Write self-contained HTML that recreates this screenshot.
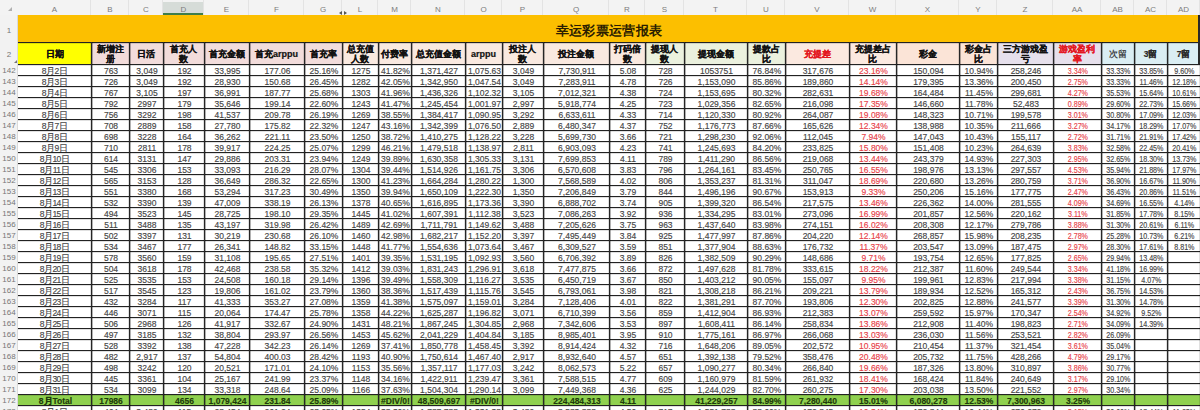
<!DOCTYPE html><html><head><meta charset="utf-8"><style>
*{margin:0;padding:0;box-sizing:border-box}
html,body{width:1200px;height:410px;overflow:hidden;background:#fff}
body{position:relative;font-family:"Liberation Sans",sans-serif}
#w{position:absolute;left:0;top:0;width:1200px;height:410px;overflow:hidden;filter:none}
.a{position:absolute}
.ch{position:absolute;top:1.5px;height:15px;line-height:15px;text-align:center;font-size:8px;color:#7c7c7c}
.rh{position:absolute;left:0;width:18px;height:11px;line-height:11px;text-align:center;font-size:8px;color:#767676}
.c{position:absolute;height:11px;line-height:11px;text-align:center;padding-left:2px;font-size:8.5px;color:#464646;white-space:nowrap;overflow:hidden;-webkit-text-stroke:0.15px currentColor}
.h{position:absolute;top:42px;height:22px;display:flex;align-items:center;justify-content:center;text-align:center;font-size:9px;line-height:9.5px;font-weight:bold;color:#111;overflow:hidden;padding-top:3px;-webkit-text-stroke:0.2px currentColor}
.h2{padding-top:2px;font-size:9px;line-height:10px}
.sm{transform:scaleX(0.84)}
.vl{position:absolute;width:1px;background:#262626;box-shadow:-1px 0 0 rgba(0,0,0,.12),1px 0 0 rgba(0,0,0,.3)}
.hl{position:absolute;height:1px;background:#222;box-shadow:0 1px 0 rgba(0,0,0,.12)}
.r{color:#e8434b}
.h.r{color:#e3161e}
.hs{font-size:8.5px;color:#2a2a2a}
.hn{font-weight:normal}
.t{font-weight:bold;color:#1d3a0a}
.dt{letter-spacing:-0.5px;padding-left:0}
</style></head><body><div id="w">

<div class="a" style="left:0;top:0;width:1200px;height:15px;background:#f3f3f3"></div>
<div class="a" style="left:0;top:15px;width:18px;height:395px;background:#f2f2f2"></div>
<div class="a" style="left:8px;top:7px;width:0;height:0;border-left:4px solid transparent;border-bottom:4px solid #b0b0b0"></div>
<div class="a" style="left:90px;top:0;width:1px;height:15px;background:#e3e3e3"></div>
<div class="ch" style="left:18px;width:73px">A</div>
<div class="a" style="left:128px;top:0;width:1px;height:15px;background:#e3e3e3"></div>
<div class="ch" style="left:91px;width:38px">B</div>
<div class="a" style="left:162px;top:0;width:1px;height:15px;background:#e3e3e3"></div>
<div class="ch" style="left:129px;width:34px">C</div>
<div class="a" style="left:163px;top:2px;width:41px;height:13px;background:#d6dcd8"></div>
<div class="a" style="left:163px;top:13px;width:41px;height:2px;background:#3f7d4a"></div>
<div class="a" style="left:203px;top:0;width:1px;height:15px;background:#e3e3e3"></div>
<div class="ch" style="left:163px;width:41px">D</div>
<div class="a" style="left:248px;top:0;width:1px;height:15px;background:#e3e3e3"></div>
<div class="ch" style="left:204px;width:45px">E</div>
<div class="a" style="left:303px;top:0;width:1px;height:15px;background:#e3e3e3"></div>
<div class="ch" style="left:249px;width:55px">F</div>
<div class="a" style="left:341px;top:0;width:1px;height:15px;background:#e3e3e3"></div>
<div class="ch" style="left:304px;width:38px">G</div>
<div class="a" style="left:377px;top:0;width:1px;height:15px;background:#e3e3e3"></div>
<div class="ch" style="left:342px;width:36px">L</div>
<div class="a" style="left:410px;top:0;width:1px;height:15px;background:#e3e3e3"></div>
<div class="ch" style="left:378px;width:33px">M</div>
<div class="a" style="left:464px;top:0;width:1px;height:15px;background:#e3e3e3"></div>
<div class="ch" style="left:411px;width:54px">N</div>
<div class="a" style="left:501px;top:0;width:1px;height:15px;background:#e3e3e3"></div>
<div class="ch" style="left:465px;width:37px">O</div>
<div class="a" style="left:542px;top:0;width:1px;height:15px;background:#e3e3e3"></div>
<div class="ch" style="left:502px;width:41px">P</div>
<div class="a" style="left:608px;top:0;width:1px;height:15px;background:#e3e3e3"></div>
<div class="ch" style="left:543px;width:66px">Q</div>
<div class="a" style="left:644px;top:0;width:1px;height:15px;background:#e3e3e3"></div>
<div class="ch" style="left:609px;width:36px">R</div>
<div class="a" style="left:683px;top:0;width:1px;height:15px;background:#e3e3e3"></div>
<div class="ch" style="left:645px;width:39px">S</div>
<div class="a" style="left:746px;top:0;width:1px;height:15px;background:#e3e3e3"></div>
<div class="ch" style="left:684px;width:63px">T</div>
<div class="a" style="left:784px;top:0;width:1px;height:15px;background:#e3e3e3"></div>
<div class="ch" style="left:747px;width:38px">U</div>
<div class="a" style="left:848px;top:0;width:1px;height:15px;background:#e3e3e3"></div>
<div class="ch" style="left:785px;width:64px">V</div>
<div class="a" style="left:895px;top:0;width:1px;height:15px;background:#e3e3e3"></div>
<div class="ch" style="left:849px;width:47px">W</div>
<div class="a" style="left:958px;top:0;width:1px;height:15px;background:#e3e3e3"></div>
<div class="ch" style="left:896px;width:63px">X</div>
<div class="a" style="left:996px;top:0;width:1px;height:15px;background:#e3e3e3"></div>
<div class="ch" style="left:959px;width:38px">Y</div>
<div class="a" style="left:1052px;top:0;width:1px;height:15px;background:#e3e3e3"></div>
<div class="ch" style="left:997px;width:56px">Z</div>
<div class="a" style="left:1100px;top:0;width:1px;height:15px;background:#e3e3e3"></div>
<div class="ch" style="left:1053px;width:48px">AA</div>
<div class="a" style="left:1133px;top:0;width:1px;height:15px;background:#e3e3e3"></div>
<div class="ch" style="left:1101px;width:33px">AB</div>
<div class="a" style="left:1166px;top:0;width:1px;height:15px;background:#e3e3e3"></div>
<div class="ch" style="left:1134px;width:33px">AC</div>
<div class="a" style="left:1199px;top:0;width:1px;height:15px;background:#e3e3e3"></div>
<div class="ch" style="left:1167px;width:33px">AD</div>
<div class="a" style="left:339px;top:11px;width:0;height:0;border-top:2px solid transparent;border-bottom:2px solid transparent;border-right:3px solid #555"></div>
<div class="a" style="left:344px;top:11px;width:0;height:0;border-top:2px solid transparent;border-bottom:2px solid transparent;border-left:3px solid #555"></div>
<div class="a" style="left:18px;top:15px;width:1182px;height:27px;background:#fcbf00"></div>
<div class="rh" style="top:25px;">1</div>
<div class="rh" style="top:49px;">2</div>
<div class="a" style="left:18px;top:18px;width:1182px;height:25px;text-align:center;line-height:25px;font-family:'Liberation Serif',serif;font-weight:bold;font-size:13px;letter-spacing:0.3px;color:#2a1d00;padding-left:0px">幸运彩票运营报表</div>
<div class="a" style="left:18px;top:42px;width:73px;height:22px;background:#FFFF00"></div>
<div class="h" style="left:18px;width:73px">日期</div>
<div class="a" style="left:91px;top:42px;width:38px;height:22px;background:#F2DCDB"></div>
<div class="h h2" style="left:91px;width:38px">新增注<br>册</div>
<div class="a" style="left:129px;top:42px;width:34px;height:22px;background:#F2DCDB"></div>
<div class="h" style="left:129px;width:34px">日活</div>
<div class="a" style="left:163px;top:42px;width:41px;height:22px;background:#F2DCDB"></div>
<div class="h h2" style="left:163px;width:41px">首充人<br>数</div>
<div class="a" style="left:204px;top:42px;width:45px;height:22px;background:#F2DCDB"></div>
<div class="h" style="left:204px;width:45px">首充金额</div>
<div class="a" style="left:249px;top:42px;width:55px;height:22px;background:#F2DCDB"></div>
<div class="h" style="left:249px;width:55px">首充arppu</div>
<div class="a" style="left:304px;top:42px;width:38px;height:22px;background:#F2DCDB"></div>
<div class="h" style="left:304px;width:38px">首充率</div>
<div class="a" style="left:342px;top:42px;width:36px;height:22px;background:#F9E9E0"></div>
<div class="h h2" style="left:342px;width:36px">总充值<br>人数</div>
<div class="a" style="left:378px;top:42px;width:33px;height:22px;background:#F9E9E0"></div>
<div class="h" style="left:378px;width:33px">付费率</div>
<div class="a" style="left:411px;top:42px;width:54px;height:22px;background:#F9E9E0"></div>
<div class="h" style="left:411px;width:54px">总充值金额</div>
<div class="a" style="left:465px;top:42px;width:37px;height:22px;background:#F9E9E0"></div>
<div class="h" style="left:465px;width:37px">arppu</div>
<div class="a" style="left:502px;top:42px;width:41px;height:22px;background:#F9E9E0"></div>
<div class="h h2" style="left:502px;width:41px">投注人<br>数</div>
<div class="a" style="left:543px;top:42px;width:66px;height:22px;background:#F9E9E0"></div>
<div class="h" style="left:543px;width:66px">投注金额</div>
<div class="a" style="left:609px;top:42px;width:36px;height:22px;background:#F9E9E0"></div>
<div class="h h2" style="left:609px;width:36px">打码倍<br>数</div>
<div class="a" style="left:645px;top:42px;width:39px;height:22px;background:#EBF1DE"></div>
<div class="h h2" style="left:645px;width:39px">提现人<br>数</div>
<div class="a" style="left:684px;top:42px;width:63px;height:22px;background:#EBF1DE"></div>
<div class="h" style="left:684px;width:63px">提现金额</div>
<div class="a" style="left:747px;top:42px;width:38px;height:22px;background:#EBF1DE"></div>
<div class="h h2" style="left:747px;width:38px">提款占<br>比</div>
<div class="a" style="left:785px;top:42px;width:64px;height:22px;background:#FBE9E0"></div>
<div class="h r" style="left:785px;width:64px">充提差</div>
<div class="a" style="left:849px;top:42px;width:47px;height:22px;background:#FBE9E0"></div>
<div class="h h2" style="left:849px;width:47px">充提差占<br>比</div>
<div class="a" style="left:896px;top:42px;width:63px;height:22px;background:#FBE4D7"></div>
<div class="h" style="left:896px;width:63px">彩金</div>
<div class="a" style="left:959px;top:42px;width:38px;height:22px;background:#FBE4D7"></div>
<div class="h h2" style="left:959px;width:38px">彩金占<br>比</div>
<div class="a" style="left:997px;top:42px;width:56px;height:22px;background:#E6E0EC"></div>
<div class="h h2" style="left:997px;width:56px">三方游戏盈<br>亏</div>
<div class="a" style="left:1053px;top:42px;width:48px;height:22px;background:#E6E0EC"></div>
<div class="h r h2" style="left:1053px;width:48px">游戏盈利<br>率</div>
<div class="a" style="left:1101px;top:42px;width:33px;height:22px;background:#DBEEF3"></div>
<div class="h hs hn" style="left:1101px;width:33px">次留</div>
<div class="a" style="left:1134px;top:42px;width:33px;height:22px;background:#DBEEF3"></div>
<div class="h hs" style="left:1134px;width:33px">3留</div>
<div class="a" style="left:1167px;top:42px;width:33px;height:22px;background:#DBEEF3"></div>
<div class="h hs" style="left:1167px;width:33px">7留</div>
<div class="rh" style="top:65px">142</div>
<div class="c dt" style="left:18px;top:65.5px;width:73px">8月2日</div>
<div class="c" style="left:91px;top:65.5px;width:38px">763</div>
<div class="c" style="left:129px;top:65.5px;width:34px">3,049</div>
<div class="c" style="left:163px;top:65.5px;width:41px">192</div>
<div class="c" style="left:204px;top:65.5px;width:45px">33,995</div>
<div class="c" style="left:249px;top:65.5px;width:55px">177.06</div>
<div class="c" style="left:304px;top:65.5px;width:38px">25.16%</div>
<div class="c" style="left:342px;top:65.5px;width:36px">1275</div>
<div class="c" style="left:378px;top:65.5px;width:33px">41.82%</div>
<div class="c" style="left:411px;top:65.5px;width:54px">1,371,427</div>
<div class="c" style="left:465px;top:65.5px;width:37px">1,075.63</div>
<div class="c" style="left:502px;top:65.5px;width:41px">3,049</div>
<div class="c" style="left:543px;top:65.5px;width:66px">7,730,911</div>
<div class="c" style="left:609px;top:65.5px;width:36px">5.08</div>
<div class="c" style="left:645px;top:65.5px;width:39px">728</div>
<div class="c" style="left:684px;top:65.5px;width:63px">1053751</div>
<div class="c" style="left:747px;top:65.5px;width:38px">76.84%</div>
<div class="c" style="left:785px;top:65.5px;width:64px">317,676</div>
<div class="c r" style="left:849px;top:65.5px;width:47px">23.16%</div>
<div class="c" style="left:896px;top:65.5px;width:63px">150,094</div>
<div class="c" style="left:959px;top:65.5px;width:38px">10.94%</div>
<div class="c" style="left:997px;top:65.5px;width:56px">258,246</div>
<div class="c r sm" style="left:1053px;top:65.5px;width:48px">3.34%</div>
<div class="c sm" style="left:1101px;top:65.5px;width:33px">33.33%</div>
<div class="c sm" style="left:1134px;top:65.5px;width:33px">33.85%</div>
<div class="c sm" style="left:1167px;top:65.5px;width:33px">9.60%</div>
<div class="rh" style="top:76px">143</div>
<div class="c dt" style="left:18px;top:76.5px;width:73px">8月3日</div>
<div class="c" style="left:91px;top:76.5px;width:38px">726</div>
<div class="c" style="left:129px;top:76.5px;width:34px">3,049</div>
<div class="c" style="left:163px;top:76.5px;width:41px">192</div>
<div class="c" style="left:204px;top:76.5px;width:45px">28,930</div>
<div class="c" style="left:249px;top:76.5px;width:55px">150.68</div>
<div class="c" style="left:304px;top:76.5px;width:38px">26.45%</div>
<div class="c" style="left:342px;top:76.5px;width:36px">1282</div>
<div class="c" style="left:378px;top:76.5px;width:33px">42.05%</div>
<div class="c" style="left:411px;top:76.5px;width:54px">1,342,950</div>
<div class="c" style="left:465px;top:76.5px;width:37px">1,047.54</div>
<div class="c" style="left:502px;top:76.5px;width:41px">3,049</div>
<div class="c" style="left:543px;top:76.5px;width:66px">7,283,911</div>
<div class="c" style="left:609px;top:76.5px;width:36px">4.78</div>
<div class="c" style="left:645px;top:76.5px;width:39px">726</div>
<div class="c" style="left:684px;top:76.5px;width:63px">1,153,090</div>
<div class="c" style="left:747px;top:76.5px;width:38px">85.86%</div>
<div class="c" style="left:785px;top:76.5px;width:64px">189,860</div>
<div class="c r" style="left:849px;top:76.5px;width:47px">14.14%</div>
<div class="c" style="left:896px;top:76.5px;width:63px">179,395</div>
<div class="c" style="left:959px;top:76.5px;width:38px">13.36%</div>
<div class="c" style="left:997px;top:76.5px;width:56px">200,450</div>
<div class="c r sm" style="left:1053px;top:76.5px;width:48px">2.75%</div>
<div class="c sm" style="left:1101px;top:76.5px;width:33px">33.33%</div>
<div class="c sm" style="left:1134px;top:76.5px;width:33px">11.46%</div>
<div class="c sm" style="left:1167px;top:76.5px;width:33px">12.18%</div>
<div class="rh" style="top:87px">144</div>
<div class="c dt" style="left:18px;top:87.5px;width:73px">8月4日</div>
<div class="c" style="left:91px;top:87.5px;width:38px">767</div>
<div class="c" style="left:129px;top:87.5px;width:34px">3,105</div>
<div class="c" style="left:163px;top:87.5px;width:41px">197</div>
<div class="c" style="left:204px;top:87.5px;width:45px">36,991</div>
<div class="c" style="left:249px;top:87.5px;width:55px">187.77</div>
<div class="c" style="left:304px;top:87.5px;width:38px">25.68%</div>
<div class="c" style="left:342px;top:87.5px;width:36px">1303</div>
<div class="c" style="left:378px;top:87.5px;width:33px">41.96%</div>
<div class="c" style="left:411px;top:87.5px;width:54px">1,436,326</div>
<div class="c" style="left:465px;top:87.5px;width:37px">1,102.32</div>
<div class="c" style="left:502px;top:87.5px;width:41px">3,105</div>
<div class="c" style="left:543px;top:87.5px;width:66px">7,012,321</div>
<div class="c" style="left:609px;top:87.5px;width:36px">4.38</div>
<div class="c" style="left:645px;top:87.5px;width:39px">724</div>
<div class="c" style="left:684px;top:87.5px;width:63px">1,153,695</div>
<div class="c" style="left:747px;top:87.5px;width:38px">80.32%</div>
<div class="c" style="left:785px;top:87.5px;width:64px">282,631</div>
<div class="c r" style="left:849px;top:87.5px;width:47px">19.68%</div>
<div class="c" style="left:896px;top:87.5px;width:63px">164,484</div>
<div class="c" style="left:959px;top:87.5px;width:38px">11.45%</div>
<div class="c" style="left:997px;top:87.5px;width:56px">299,681</div>
<div class="c r sm" style="left:1053px;top:87.5px;width:48px">4.27%</div>
<div class="c sm" style="left:1101px;top:87.5px;width:33px">35.53%</div>
<div class="c sm" style="left:1134px;top:87.5px;width:33px">15.64%</div>
<div class="c sm" style="left:1167px;top:87.5px;width:33px">10.61%</div>
<div class="rh" style="top:98px">145</div>
<div class="c dt" style="left:18px;top:98.5px;width:73px">8月5日</div>
<div class="c" style="left:91px;top:98.5px;width:38px">792</div>
<div class="c" style="left:129px;top:98.5px;width:34px">2997</div>
<div class="c" style="left:163px;top:98.5px;width:41px">179</div>
<div class="c" style="left:204px;top:98.5px;width:45px">35,646</div>
<div class="c" style="left:249px;top:98.5px;width:55px">199.14</div>
<div class="c" style="left:304px;top:98.5px;width:38px">22.60%</div>
<div class="c" style="left:342px;top:98.5px;width:36px">1243</div>
<div class="c" style="left:378px;top:98.5px;width:33px">41.47%</div>
<div class="c" style="left:411px;top:98.5px;width:54px">1,245,454</div>
<div class="c" style="left:465px;top:98.5px;width:37px">1,001.97</div>
<div class="c" style="left:502px;top:98.5px;width:41px">2,997</div>
<div class="c" style="left:543px;top:98.5px;width:66px">5,918,774</div>
<div class="c" style="left:609px;top:98.5px;width:36px">4.25</div>
<div class="c" style="left:645px;top:98.5px;width:39px">723</div>
<div class="c" style="left:684px;top:98.5px;width:63px">1,029,356</div>
<div class="c" style="left:747px;top:98.5px;width:38px">82.65%</div>
<div class="c" style="left:785px;top:98.5px;width:64px">216,098</div>
<div class="c r" style="left:849px;top:98.5px;width:47px">17.35%</div>
<div class="c" style="left:896px;top:98.5px;width:63px">146,660</div>
<div class="c" style="left:959px;top:98.5px;width:38px">11.78%</div>
<div class="c" style="left:997px;top:98.5px;width:56px">52,483</div>
<div class="c r sm" style="left:1053px;top:98.5px;width:48px">0.89%</div>
<div class="c sm" style="left:1101px;top:98.5px;width:33px">29.60%</div>
<div class="c sm" style="left:1134px;top:98.5px;width:33px">22.73%</div>
<div class="c sm" style="left:1167px;top:98.5px;width:33px">15.66%</div>
<div class="rh" style="top:109px">146</div>
<div class="c dt" style="left:18px;top:109.5px;width:73px">8月6日</div>
<div class="c" style="left:91px;top:109.5px;width:38px">756</div>
<div class="c" style="left:129px;top:109.5px;width:34px">3292</div>
<div class="c" style="left:163px;top:109.5px;width:41px">198</div>
<div class="c" style="left:204px;top:109.5px;width:45px">41,537</div>
<div class="c" style="left:249px;top:109.5px;width:55px">209.78</div>
<div class="c" style="left:304px;top:109.5px;width:38px">26.19%</div>
<div class="c" style="left:342px;top:109.5px;width:36px">1269</div>
<div class="c" style="left:378px;top:109.5px;width:33px">38.55%</div>
<div class="c" style="left:411px;top:109.5px;width:54px">1,384,417</div>
<div class="c" style="left:465px;top:109.5px;width:37px">1,090.95</div>
<div class="c" style="left:502px;top:109.5px;width:41px">3,292</div>
<div class="c" style="left:543px;top:109.5px;width:66px">6,633,611</div>
<div class="c" style="left:609px;top:109.5px;width:36px">4.33</div>
<div class="c" style="left:645px;top:109.5px;width:39px">714</div>
<div class="c" style="left:684px;top:109.5px;width:63px">1,120,330</div>
<div class="c" style="left:747px;top:109.5px;width:38px">80.92%</div>
<div class="c" style="left:785px;top:109.5px;width:64px">264,087</div>
<div class="c r" style="left:849px;top:109.5px;width:47px">19.08%</div>
<div class="c" style="left:896px;top:109.5px;width:63px">148,323</div>
<div class="c" style="left:959px;top:109.5px;width:38px">10.71%</div>
<div class="c" style="left:997px;top:109.5px;width:56px">199,578</div>
<div class="c r sm" style="left:1053px;top:109.5px;width:48px">3.01%</div>
<div class="c sm" style="left:1101px;top:109.5px;width:33px">30.80%</div>
<div class="c sm" style="left:1134px;top:109.5px;width:33px">17.09%</div>
<div class="c sm" style="left:1167px;top:109.5px;width:33px">12.03%</div>
<div class="rh" style="top:120px">147</div>
<div class="c dt" style="left:18px;top:120.5px;width:73px">8月7日</div>
<div class="c" style="left:91px;top:120.5px;width:38px">708</div>
<div class="c" style="left:129px;top:120.5px;width:34px">2889</div>
<div class="c" style="left:163px;top:120.5px;width:41px">158</div>
<div class="c" style="left:204px;top:120.5px;width:45px">27,780</div>
<div class="c" style="left:249px;top:120.5px;width:55px">175.82</div>
<div class="c" style="left:304px;top:120.5px;width:38px">22.32%</div>
<div class="c" style="left:342px;top:120.5px;width:36px">1247</div>
<div class="c" style="left:378px;top:120.5px;width:33px">43.16%</div>
<div class="c" style="left:411px;top:120.5px;width:54px">1,342,399</div>
<div class="c" style="left:465px;top:120.5px;width:37px">1,076.50</div>
<div class="c" style="left:502px;top:120.5px;width:41px">2,889</div>
<div class="c" style="left:543px;top:120.5px;width:66px">6,480,347</div>
<div class="c" style="left:609px;top:120.5px;width:36px">4.37</div>
<div class="c" style="left:645px;top:120.5px;width:39px">752</div>
<div class="c" style="left:684px;top:120.5px;width:63px">1,176,773</div>
<div class="c" style="left:747px;top:120.5px;width:38px">87.66%</div>
<div class="c" style="left:785px;top:120.5px;width:64px">165,626</div>
<div class="c r" style="left:849px;top:120.5px;width:47px">12.34%</div>
<div class="c" style="left:896px;top:120.5px;width:63px">138,988</div>
<div class="c" style="left:959px;top:120.5px;width:38px">10.35%</div>
<div class="c" style="left:997px;top:120.5px;width:56px">211,666</div>
<div class="c r sm" style="left:1053px;top:120.5px;width:48px">3.27%</div>
<div class="c sm" style="left:1101px;top:120.5px;width:33px">34.17%</div>
<div class="c sm" style="left:1134px;top:120.5px;width:33px">18.29%</div>
<div class="c sm" style="left:1167px;top:120.5px;width:33px">17.07%</div>
<div class="rh" style="top:131px">148</div>
<div class="c dt" style="left:18px;top:131.5px;width:73px">8月8日</div>
<div class="c" style="left:91px;top:131.5px;width:38px">698</div>
<div class="c" style="left:129px;top:131.5px;width:34px">3228</div>
<div class="c" style="left:163px;top:131.5px;width:41px">164</div>
<div class="c" style="left:204px;top:131.5px;width:45px">36,262</div>
<div class="c" style="left:249px;top:131.5px;width:55px">221.11</div>
<div class="c" style="left:304px;top:131.5px;width:38px">23.50%</div>
<div class="c" style="left:342px;top:131.5px;width:36px">1250</div>
<div class="c" style="left:378px;top:131.5px;width:33px">38.72%</div>
<div class="c" style="left:411px;top:131.5px;width:54px">1,410,275</div>
<div class="c" style="left:465px;top:131.5px;width:37px">1,128.22</div>
<div class="c" style="left:502px;top:131.5px;width:41px">3,228</div>
<div class="c" style="left:543px;top:131.5px;width:66px">5,699,730</div>
<div class="c" style="left:609px;top:131.5px;width:36px">3.66</div>
<div class="c" style="left:645px;top:131.5px;width:39px">721</div>
<div class="c" style="left:684px;top:131.5px;width:63px">1,298,230</div>
<div class="c" style="left:747px;top:131.5px;width:38px">92.06%</div>
<div class="c" style="left:785px;top:131.5px;width:64px">112,045</div>
<div class="c r" style="left:849px;top:131.5px;width:47px">7.94%</div>
<div class="c" style="left:896px;top:131.5px;width:63px">147,043</div>
<div class="c" style="left:959px;top:131.5px;width:38px">10.43%</div>
<div class="c" style="left:997px;top:131.5px;width:56px">155,117</div>
<div class="c r sm" style="left:1053px;top:131.5px;width:48px">2.72%</div>
<div class="c sm" style="left:1101px;top:131.5px;width:33px">31.71%</div>
<div class="c sm" style="left:1134px;top:131.5px;width:33px">21.91%</div>
<div class="c sm" style="left:1167px;top:131.5px;width:33px">17.42%</div>
<div class="rh" style="top:142px">149</div>
<div class="c dt" style="left:18px;top:142.5px;width:73px">8月9日</div>
<div class="c" style="left:91px;top:142.5px;width:38px">710</div>
<div class="c" style="left:129px;top:142.5px;width:34px">2811</div>
<div class="c" style="left:163px;top:142.5px;width:41px">178</div>
<div class="c" style="left:204px;top:142.5px;width:45px">39,917</div>
<div class="c" style="left:249px;top:142.5px;width:55px">224.25</div>
<div class="c" style="left:304px;top:142.5px;width:38px">25.07%</div>
<div class="c" style="left:342px;top:142.5px;width:36px">1299</div>
<div class="c" style="left:378px;top:142.5px;width:33px">46.21%</div>
<div class="c" style="left:411px;top:142.5px;width:54px">1,479,518</div>
<div class="c" style="left:465px;top:142.5px;width:37px">1,138.97</div>
<div class="c" style="left:502px;top:142.5px;width:41px">2,811</div>
<div class="c" style="left:543px;top:142.5px;width:66px">6,903,093</div>
<div class="c" style="left:609px;top:142.5px;width:36px">4.23</div>
<div class="c" style="left:645px;top:142.5px;width:39px">741</div>
<div class="c" style="left:684px;top:142.5px;width:63px">1,245,693</div>
<div class="c" style="left:747px;top:142.5px;width:38px">84.20%</div>
<div class="c" style="left:785px;top:142.5px;width:64px">233,825</div>
<div class="c r" style="left:849px;top:142.5px;width:47px">15.80%</div>
<div class="c" style="left:896px;top:142.5px;width:63px">151,408</div>
<div class="c" style="left:959px;top:142.5px;width:38px">10.23%</div>
<div class="c" style="left:997px;top:142.5px;width:56px">264,639</div>
<div class="c r sm" style="left:1053px;top:142.5px;width:48px">3.83%</div>
<div class="c sm" style="left:1101px;top:142.5px;width:33px">32.58%</div>
<div class="c sm" style="left:1134px;top:142.5px;width:33px">22.45%</div>
<div class="c sm" style="left:1167px;top:142.5px;width:33px">20.41%</div>
<div class="rh" style="top:153px">150</div>
<div class="c dt" style="left:18px;top:153.5px;width:73px">8月10日</div>
<div class="c" style="left:91px;top:153.5px;width:38px">614</div>
<div class="c" style="left:129px;top:153.5px;width:34px">3131</div>
<div class="c" style="left:163px;top:153.5px;width:41px">147</div>
<div class="c" style="left:204px;top:153.5px;width:45px">29,886</div>
<div class="c" style="left:249px;top:153.5px;width:55px">203.31</div>
<div class="c" style="left:304px;top:153.5px;width:38px">23.94%</div>
<div class="c" style="left:342px;top:153.5px;width:36px">1249</div>
<div class="c" style="left:378px;top:153.5px;width:33px">39.89%</div>
<div class="c" style="left:411px;top:153.5px;width:54px">1,630,358</div>
<div class="c" style="left:465px;top:153.5px;width:37px">1,305.33</div>
<div class="c" style="left:502px;top:153.5px;width:41px">3,131</div>
<div class="c" style="left:543px;top:153.5px;width:66px">7,699,853</div>
<div class="c" style="left:609px;top:153.5px;width:36px">4.11</div>
<div class="c" style="left:645px;top:153.5px;width:39px">789</div>
<div class="c" style="left:684px;top:153.5px;width:63px">1,411,290</div>
<div class="c" style="left:747px;top:153.5px;width:38px">86.56%</div>
<div class="c" style="left:785px;top:153.5px;width:64px">219,068</div>
<div class="c r" style="left:849px;top:153.5px;width:47px">13.44%</div>
<div class="c" style="left:896px;top:153.5px;width:63px">243,379</div>
<div class="c" style="left:959px;top:153.5px;width:38px">14.93%</div>
<div class="c" style="left:997px;top:153.5px;width:56px">227,303</div>
<div class="c r sm" style="left:1053px;top:153.5px;width:48px">2.95%</div>
<div class="c sm" style="left:1101px;top:153.5px;width:33px">32.65%</div>
<div class="c sm" style="left:1134px;top:153.5px;width:33px">18.30%</div>
<div class="c sm" style="left:1167px;top:153.5px;width:33px">13.73%</div>
<div class="rh" style="top:164px">151</div>
<div class="c dt" style="left:18px;top:164.5px;width:73px">8月11日</div>
<div class="c" style="left:91px;top:164.5px;width:38px">545</div>
<div class="c" style="left:129px;top:164.5px;width:34px">3306</div>
<div class="c" style="left:163px;top:164.5px;width:41px">153</div>
<div class="c" style="left:204px;top:164.5px;width:45px">33,093</div>
<div class="c" style="left:249px;top:164.5px;width:55px">216.29</div>
<div class="c" style="left:304px;top:164.5px;width:38px">28.07%</div>
<div class="c" style="left:342px;top:164.5px;width:36px">1304</div>
<div class="c" style="left:378px;top:164.5px;width:33px">39.44%</div>
<div class="c" style="left:411px;top:164.5px;width:54px">1,514,926</div>
<div class="c" style="left:465px;top:164.5px;width:37px">1,161.75</div>
<div class="c" style="left:502px;top:164.5px;width:41px">3,306</div>
<div class="c" style="left:543px;top:164.5px;width:66px">6,570,608</div>
<div class="c" style="left:609px;top:164.5px;width:36px">3.83</div>
<div class="c" style="left:645px;top:164.5px;width:39px">796</div>
<div class="c" style="left:684px;top:164.5px;width:63px">1,264,161</div>
<div class="c" style="left:747px;top:164.5px;width:38px">83.45%</div>
<div class="c" style="left:785px;top:164.5px;width:64px">250,765</div>
<div class="c r" style="left:849px;top:164.5px;width:47px">16.55%</div>
<div class="c" style="left:896px;top:164.5px;width:63px">198,976</div>
<div class="c" style="left:959px;top:164.5px;width:38px">13.13%</div>
<div class="c" style="left:997px;top:164.5px;width:56px">297,557</div>
<div class="c r sm" style="left:1053px;top:164.5px;width:48px">4.53%</div>
<div class="c sm" style="left:1101px;top:164.5px;width:33px">35.94%</div>
<div class="c sm" style="left:1134px;top:164.5px;width:33px">21.88%</div>
<div class="c sm" style="left:1167px;top:164.5px;width:33px">17.97%</div>
<div class="rh" style="top:175px">152</div>
<div class="c dt" style="left:18px;top:175.5px;width:73px">8月12日</div>
<div class="c" style="left:91px;top:175.5px;width:38px">565</div>
<div class="c" style="left:129px;top:175.5px;width:34px">3153</div>
<div class="c" style="left:163px;top:175.5px;width:41px">128</div>
<div class="c" style="left:204px;top:175.5px;width:45px">36,649</div>
<div class="c" style="left:249px;top:175.5px;width:55px">286.32</div>
<div class="c" style="left:304px;top:175.5px;width:38px">22.65%</div>
<div class="c" style="left:342px;top:175.5px;width:36px">1300</div>
<div class="c" style="left:378px;top:175.5px;width:33px">41.23%</div>
<div class="c" style="left:411px;top:175.5px;width:54px">1,664,284</div>
<div class="c" style="left:465px;top:175.5px;width:37px">1,280.22</div>
<div class="c" style="left:502px;top:175.5px;width:41px">1,300</div>
<div class="c" style="left:543px;top:175.5px;width:66px">7,568,589</div>
<div class="c" style="left:609px;top:175.5px;width:36px">4.02</div>
<div class="c" style="left:645px;top:175.5px;width:39px">806</div>
<div class="c" style="left:684px;top:175.5px;width:63px">1,353,237</div>
<div class="c" style="left:747px;top:175.5px;width:38px">81.31%</div>
<div class="c" style="left:785px;top:175.5px;width:64px">311,047</div>
<div class="c r" style="left:849px;top:175.5px;width:47px">18.69%</div>
<div class="c" style="left:896px;top:175.5px;width:63px">220,680</div>
<div class="c" style="left:959px;top:175.5px;width:38px">13.26%</div>
<div class="c" style="left:997px;top:175.5px;width:56px">280,759</div>
<div class="c r sm" style="left:1053px;top:175.5px;width:48px">3.71%</div>
<div class="c sm" style="left:1101px;top:175.5px;width:33px">36.90%</div>
<div class="c sm" style="left:1134px;top:175.5px;width:33px">16.67%</div>
<div class="c sm" style="left:1167px;top:175.5px;width:33px">11.90%</div>
<div class="rh" style="top:186px">153</div>
<div class="c dt" style="left:18px;top:186.5px;width:73px">8月13日</div>
<div class="c" style="left:91px;top:186.5px;width:38px">551</div>
<div class="c" style="left:129px;top:186.5px;width:34px">3380</div>
<div class="c" style="left:163px;top:186.5px;width:41px">168</div>
<div class="c" style="left:204px;top:186.5px;width:45px">53,294</div>
<div class="c" style="left:249px;top:186.5px;width:55px">317.23</div>
<div class="c" style="left:304px;top:186.5px;width:38px">30.49%</div>
<div class="c" style="left:342px;top:186.5px;width:36px">1350</div>
<div class="c" style="left:378px;top:186.5px;width:33px">39.94%</div>
<div class="c" style="left:411px;top:186.5px;width:54px">1,650,109</div>
<div class="c" style="left:465px;top:186.5px;width:37px">1,222.30</div>
<div class="c" style="left:502px;top:186.5px;width:41px">1,350</div>
<div class="c" style="left:543px;top:186.5px;width:66px">7,206,849</div>
<div class="c" style="left:609px;top:186.5px;width:36px">3.79</div>
<div class="c" style="left:645px;top:186.5px;width:39px">844</div>
<div class="c" style="left:684px;top:186.5px;width:63px">1,496,196</div>
<div class="c" style="left:747px;top:186.5px;width:38px">90.67%</div>
<div class="c" style="left:785px;top:186.5px;width:64px">153,913</div>
<div class="c r" style="left:849px;top:186.5px;width:47px">9.33%</div>
<div class="c" style="left:896px;top:186.5px;width:63px">250,206</div>
<div class="c" style="left:959px;top:186.5px;width:38px">15.16%</div>
<div class="c" style="left:997px;top:186.5px;width:56px">177,775</div>
<div class="c r sm" style="left:1053px;top:186.5px;width:48px">2.47%</div>
<div class="c sm" style="left:1101px;top:186.5px;width:33px">36.43%</div>
<div class="c sm" style="left:1134px;top:186.5px;width:33px">20.86%</div>
<div class="c sm" style="left:1167px;top:186.5px;width:33px">11.51%</div>
<div class="rh" style="top:197px">154</div>
<div class="c dt" style="left:18px;top:197.5px;width:73px">8月14日</div>
<div class="c" style="left:91px;top:197.5px;width:38px">532</div>
<div class="c" style="left:129px;top:197.5px;width:34px">3390</div>
<div class="c" style="left:163px;top:197.5px;width:41px">139</div>
<div class="c" style="left:204px;top:197.5px;width:45px">47,009</div>
<div class="c" style="left:249px;top:197.5px;width:55px">338.19</div>
<div class="c" style="left:304px;top:197.5px;width:38px">26.13%</div>
<div class="c" style="left:342px;top:197.5px;width:36px">1378</div>
<div class="c" style="left:378px;top:197.5px;width:33px">40.65%</div>
<div class="c" style="left:411px;top:197.5px;width:54px">1,616,895</div>
<div class="c" style="left:465px;top:197.5px;width:37px">1,173.36</div>
<div class="c" style="left:502px;top:197.5px;width:41px">3,390</div>
<div class="c" style="left:543px;top:197.5px;width:66px">6,888,702</div>
<div class="c" style="left:609px;top:197.5px;width:36px">3.74</div>
<div class="c" style="left:645px;top:197.5px;width:39px">905</div>
<div class="c" style="left:684px;top:197.5px;width:63px">1,399,320</div>
<div class="c" style="left:747px;top:197.5px;width:38px">86.54%</div>
<div class="c" style="left:785px;top:197.5px;width:64px">217,575</div>
<div class="c r" style="left:849px;top:197.5px;width:47px">13.46%</div>
<div class="c" style="left:896px;top:197.5px;width:63px">226,362</div>
<div class="c" style="left:959px;top:197.5px;width:38px">14.00%</div>
<div class="c" style="left:997px;top:197.5px;width:56px">281,555</div>
<div class="c r sm" style="left:1053px;top:197.5px;width:48px">4.09%</div>
<div class="c sm" style="left:1101px;top:197.5px;width:33px">34.69%</div>
<div class="c sm" style="left:1134px;top:197.5px;width:33px">16.55%</div>
<div class="c sm" style="left:1167px;top:197.5px;width:33px">4.14%</div>
<div class="rh" style="top:208px">155</div>
<div class="c dt" style="left:18px;top:208.5px;width:73px">8月15日</div>
<div class="c" style="left:91px;top:208.5px;width:38px">494</div>
<div class="c" style="left:129px;top:208.5px;width:34px">3523</div>
<div class="c" style="left:163px;top:208.5px;width:41px">145</div>
<div class="c" style="left:204px;top:208.5px;width:45px">28,725</div>
<div class="c" style="left:249px;top:208.5px;width:55px">198.10</div>
<div class="c" style="left:304px;top:208.5px;width:38px">29.35%</div>
<div class="c" style="left:342px;top:208.5px;width:36px">1445</div>
<div class="c" style="left:378px;top:208.5px;width:33px">41.02%</div>
<div class="c" style="left:411px;top:208.5px;width:54px">1,607,391</div>
<div class="c" style="left:465px;top:208.5px;width:37px">1,112.38</div>
<div class="c" style="left:502px;top:208.5px;width:41px">3,523</div>
<div class="c" style="left:543px;top:208.5px;width:66px">7,086,263</div>
<div class="c" style="left:609px;top:208.5px;width:36px">3.92</div>
<div class="c" style="left:645px;top:208.5px;width:39px">936</div>
<div class="c" style="left:684px;top:208.5px;width:63px">1,334,295</div>
<div class="c" style="left:747px;top:208.5px;width:38px">83.01%</div>
<div class="c" style="left:785px;top:208.5px;width:64px">273,096</div>
<div class="c r" style="left:849px;top:208.5px;width:47px">16.99%</div>
<div class="c" style="left:896px;top:208.5px;width:63px">201,857</div>
<div class="c" style="left:959px;top:208.5px;width:38px">12.56%</div>
<div class="c" style="left:997px;top:208.5px;width:56px">220,162</div>
<div class="c r sm" style="left:1053px;top:208.5px;width:48px">3.11%</div>
<div class="c sm" style="left:1101px;top:208.5px;width:33px">31.85%</div>
<div class="c sm" style="left:1134px;top:208.5px;width:33px">17.78%</div>
<div class="c sm" style="left:1167px;top:208.5px;width:33px">8.15%</div>
<div class="rh" style="top:219px">156</div>
<div class="c dt" style="left:18px;top:219.5px;width:73px">8月16日</div>
<div class="c" style="left:91px;top:219.5px;width:38px">511</div>
<div class="c" style="left:129px;top:219.5px;width:34px">3488</div>
<div class="c" style="left:163px;top:219.5px;width:41px">135</div>
<div class="c" style="left:204px;top:219.5px;width:45px">43,197</div>
<div class="c" style="left:249px;top:219.5px;width:55px">319.98</div>
<div class="c" style="left:304px;top:219.5px;width:38px">26.42%</div>
<div class="c" style="left:342px;top:219.5px;width:36px">1489</div>
<div class="c" style="left:378px;top:219.5px;width:33px">42.69%</div>
<div class="c" style="left:411px;top:219.5px;width:54px">1,711,791</div>
<div class="c" style="left:465px;top:219.5px;width:37px">1,149.62</div>
<div class="c" style="left:502px;top:219.5px;width:41px">3,488</div>
<div class="c" style="left:543px;top:219.5px;width:66px">7,205,626</div>
<div class="c" style="left:609px;top:219.5px;width:36px">3.75</div>
<div class="c" style="left:645px;top:219.5px;width:39px">963</div>
<div class="c" style="left:684px;top:219.5px;width:63px">1,437,640</div>
<div class="c" style="left:747px;top:219.5px;width:38px">83.98%</div>
<div class="c" style="left:785px;top:219.5px;width:64px">274,151</div>
<div class="c r" style="left:849px;top:219.5px;width:47px">16.02%</div>
<div class="c" style="left:896px;top:219.5px;width:63px">208,308</div>
<div class="c" style="left:959px;top:219.5px;width:38px">12.17%</div>
<div class="c" style="left:997px;top:219.5px;width:56px">279,786</div>
<div class="c r sm" style="left:1053px;top:219.5px;width:48px">3.88%</div>
<div class="c sm" style="left:1101px;top:219.5px;width:33px">31.30%</div>
<div class="c sm" style="left:1134px;top:219.5px;width:33px">20.61%</div>
<div class="c sm" style="left:1167px;top:219.5px;width:33px">6.11%</div>
<div class="rh" style="top:230px">157</div>
<div class="c dt" style="left:18px;top:230.5px;width:73px">8月17日</div>
<div class="c" style="left:91px;top:230.5px;width:38px">502</div>
<div class="c" style="left:129px;top:230.5px;width:34px">3397</div>
<div class="c" style="left:163px;top:230.5px;width:41px">131</div>
<div class="c" style="left:204px;top:230.5px;width:45px">30,219</div>
<div class="c" style="left:249px;top:230.5px;width:55px">230.68</div>
<div class="c" style="left:304px;top:230.5px;width:38px">26.10%</div>
<div class="c" style="left:342px;top:230.5px;width:36px">1460</div>
<div class="c" style="left:378px;top:230.5px;width:33px">42.98%</div>
<div class="c" style="left:411px;top:230.5px;width:54px">1,682,217</div>
<div class="c" style="left:465px;top:230.5px;width:37px">1,152.20</div>
<div class="c" style="left:502px;top:230.5px;width:41px">3,397</div>
<div class="c" style="left:543px;top:230.5px;width:66px">7,495,449</div>
<div class="c" style="left:609px;top:230.5px;width:36px">3.84</div>
<div class="c" style="left:645px;top:230.5px;width:39px">925</div>
<div class="c" style="left:684px;top:230.5px;width:63px">1,477,997</div>
<div class="c" style="left:747px;top:230.5px;width:38px">87.86%</div>
<div class="c" style="left:785px;top:230.5px;width:64px">204,220</div>
<div class="c r" style="left:849px;top:230.5px;width:47px">12.14%</div>
<div class="c" style="left:896px;top:230.5px;width:63px">268,857</div>
<div class="c" style="left:959px;top:230.5px;width:38px">15.98%</div>
<div class="c" style="left:997px;top:230.5px;width:56px">208,235</div>
<div class="c r sm" style="left:1053px;top:230.5px;width:48px">2.78%</div>
<div class="c sm" style="left:1101px;top:230.5px;width:33px">25.28%</div>
<div class="c sm" style="left:1134px;top:230.5px;width:33px">10.73%</div>
<div class="c sm" style="left:1167px;top:230.5px;width:33px">6.21%</div>
<div class="rh" style="top:241px">158</div>
<div class="c dt" style="left:18px;top:241.5px;width:73px">8月18日</div>
<div class="c" style="left:91px;top:241.5px;width:38px">534</div>
<div class="c" style="left:129px;top:241.5px;width:34px">3467</div>
<div class="c" style="left:163px;top:241.5px;width:41px">177</div>
<div class="c" style="left:204px;top:241.5px;width:45px">26,341</div>
<div class="c" style="left:249px;top:241.5px;width:55px">148.82</div>
<div class="c" style="left:304px;top:241.5px;width:38px">33.15%</div>
<div class="c" style="left:342px;top:241.5px;width:36px">1448</div>
<div class="c" style="left:378px;top:241.5px;width:33px">41.77%</div>
<div class="c" style="left:411px;top:241.5px;width:54px">1,554,636</div>
<div class="c" style="left:465px;top:241.5px;width:37px">1,073.64</div>
<div class="c" style="left:502px;top:241.5px;width:41px">3,467</div>
<div class="c" style="left:543px;top:241.5px;width:66px">6,309,527</div>
<div class="c" style="left:609px;top:241.5px;width:36px">3.59</div>
<div class="c" style="left:645px;top:241.5px;width:39px">851</div>
<div class="c" style="left:684px;top:241.5px;width:63px">1,377,904</div>
<div class="c" style="left:747px;top:241.5px;width:38px">88.63%</div>
<div class="c" style="left:785px;top:241.5px;width:64px">176,732</div>
<div class="c r" style="left:849px;top:241.5px;width:47px">11.37%</div>
<div class="c" style="left:896px;top:241.5px;width:63px">203,547</div>
<div class="c" style="left:959px;top:241.5px;width:38px">13.09%</div>
<div class="c" style="left:997px;top:241.5px;width:56px">187,475</div>
<div class="c r sm" style="left:1053px;top:241.5px;width:48px">2.97%</div>
<div class="c sm" style="left:1101px;top:241.5px;width:33px">28.30%</div>
<div class="c sm" style="left:1134px;top:241.5px;width:33px">17.61%</div>
<div class="c sm" style="left:1167px;top:241.5px;width:33px">8.81%</div>
<div class="rh" style="top:252px">159</div>
<div class="c dt" style="left:18px;top:252.5px;width:73px">8月19日</div>
<div class="c" style="left:91px;top:252.5px;width:38px">578</div>
<div class="c" style="left:129px;top:252.5px;width:34px">3560</div>
<div class="c" style="left:163px;top:252.5px;width:41px">159</div>
<div class="c" style="left:204px;top:252.5px;width:45px">31,108</div>
<div class="c" style="left:249px;top:252.5px;width:55px">195.65</div>
<div class="c" style="left:304px;top:252.5px;width:38px">27.51%</div>
<div class="c" style="left:342px;top:252.5px;width:36px">1401</div>
<div class="c" style="left:378px;top:252.5px;width:33px">39.35%</div>
<div class="c" style="left:411px;top:252.5px;width:54px">1,531,195</div>
<div class="c" style="left:465px;top:252.5px;width:37px">1,092.93</div>
<div class="c" style="left:502px;top:252.5px;width:41px">3,560</div>
<div class="c" style="left:543px;top:252.5px;width:66px">6,706,392</div>
<div class="c" style="left:609px;top:252.5px;width:36px">3.89</div>
<div class="c" style="left:645px;top:252.5px;width:39px">826</div>
<div class="c" style="left:684px;top:252.5px;width:63px">1,382,509</div>
<div class="c" style="left:747px;top:252.5px;width:38px">90.29%</div>
<div class="c" style="left:785px;top:252.5px;width:64px">148,686</div>
<div class="c r" style="left:849px;top:252.5px;width:47px">9.71%</div>
<div class="c" style="left:896px;top:252.5px;width:63px">193,754</div>
<div class="c" style="left:959px;top:252.5px;width:38px">12.65%</div>
<div class="c" style="left:997px;top:252.5px;width:56px">177,825</div>
<div class="c r sm" style="left:1053px;top:252.5px;width:48px">2.65%</div>
<div class="c sm" style="left:1101px;top:252.5px;width:33px">29.94%</div>
<div class="c sm" style="left:1134px;top:252.5px;width:33px">13.48%</div>
<div class="rh" style="top:263px">160</div>
<div class="c dt" style="left:18px;top:263.5px;width:73px">8月20日</div>
<div class="c" style="left:91px;top:263.5px;width:38px">504</div>
<div class="c" style="left:129px;top:263.5px;width:34px">3618</div>
<div class="c" style="left:163px;top:263.5px;width:41px">178</div>
<div class="c" style="left:204px;top:263.5px;width:45px">42,468</div>
<div class="c" style="left:249px;top:263.5px;width:55px">238.58</div>
<div class="c" style="left:304px;top:263.5px;width:38px">35.32%</div>
<div class="c" style="left:342px;top:263.5px;width:36px">1412</div>
<div class="c" style="left:378px;top:263.5px;width:33px">39.03%</div>
<div class="c" style="left:411px;top:263.5px;width:54px">1,831,243</div>
<div class="c" style="left:465px;top:263.5px;width:37px">1,296.91</div>
<div class="c" style="left:502px;top:263.5px;width:41px">3,618</div>
<div class="c" style="left:543px;top:263.5px;width:66px">7,477,875</div>
<div class="c" style="left:609px;top:263.5px;width:36px">3.66</div>
<div class="c" style="left:645px;top:263.5px;width:39px">872</div>
<div class="c" style="left:684px;top:263.5px;width:63px">1,497,628</div>
<div class="c" style="left:747px;top:263.5px;width:38px">81.78%</div>
<div class="c" style="left:785px;top:263.5px;width:64px">333,615</div>
<div class="c r" style="left:849px;top:263.5px;width:47px">18.22%</div>
<div class="c" style="left:896px;top:263.5px;width:63px">212,387</div>
<div class="c" style="left:959px;top:263.5px;width:38px">11.60%</div>
<div class="c" style="left:997px;top:263.5px;width:56px">249,544</div>
<div class="c r sm" style="left:1053px;top:263.5px;width:48px">3.34%</div>
<div class="c sm" style="left:1101px;top:263.5px;width:33px">41.18%</div>
<div class="c sm" style="left:1134px;top:263.5px;width:33px">16.99%</div>
<div class="rh" style="top:274px">161</div>
<div class="c dt" style="left:18px;top:274.5px;width:73px">8月21日</div>
<div class="c" style="left:91px;top:274.5px;width:38px">525</div>
<div class="c" style="left:129px;top:274.5px;width:34px">3535</div>
<div class="c" style="left:163px;top:274.5px;width:41px">153</div>
<div class="c" style="left:204px;top:274.5px;width:45px">24,508</div>
<div class="c" style="left:249px;top:274.5px;width:55px">160.18</div>
<div class="c" style="left:304px;top:274.5px;width:38px">29.14%</div>
<div class="c" style="left:342px;top:274.5px;width:36px">1396</div>
<div class="c" style="left:378px;top:274.5px;width:33px">39.49%</div>
<div class="c" style="left:411px;top:274.5px;width:54px">1,558,309</div>
<div class="c" style="left:465px;top:274.5px;width:37px">1,116.27</div>
<div class="c" style="left:502px;top:274.5px;width:41px">3,535</div>
<div class="c" style="left:543px;top:274.5px;width:66px">6,450,719</div>
<div class="c" style="left:609px;top:274.5px;width:36px">3.67</div>
<div class="c" style="left:645px;top:274.5px;width:39px">850</div>
<div class="c" style="left:684px;top:274.5px;width:63px">1,403,212</div>
<div class="c" style="left:747px;top:274.5px;width:38px">90.05%</div>
<div class="c" style="left:785px;top:274.5px;width:64px">155,097</div>
<div class="c r" style="left:849px;top:274.5px;width:47px">9.95%</div>
<div class="c" style="left:896px;top:274.5px;width:63px">199,961</div>
<div class="c" style="left:959px;top:274.5px;width:38px">12.83%</div>
<div class="c" style="left:997px;top:274.5px;width:56px">217,994</div>
<div class="c r sm" style="left:1053px;top:274.5px;width:48px">3.38%</div>
<div class="c sm" style="left:1101px;top:274.5px;width:33px">31.15%</div>
<div class="c sm" style="left:1134px;top:274.5px;width:33px">4.07%</div>
<div class="rh" style="top:285px">162</div>
<div class="c dt" style="left:18px;top:285.5px;width:73px">8月22日</div>
<div class="c" style="left:91px;top:285.5px;width:38px">517</div>
<div class="c" style="left:129px;top:285.5px;width:34px">3545</div>
<div class="c" style="left:163px;top:285.5px;width:41px">123</div>
<div class="c" style="left:204px;top:285.5px;width:45px">19,806</div>
<div class="c" style="left:249px;top:285.5px;width:55px">161.02</div>
<div class="c" style="left:304px;top:285.5px;width:38px">23.79%</div>
<div class="c" style="left:342px;top:285.5px;width:36px">1360</div>
<div class="c" style="left:378px;top:285.5px;width:33px">38.36%</div>
<div class="c" style="left:411px;top:285.5px;width:54px">1,517,439</div>
<div class="c" style="left:465px;top:285.5px;width:37px">1,115.76</div>
<div class="c" style="left:502px;top:285.5px;width:41px">3,545</div>
<div class="c" style="left:543px;top:285.5px;width:66px">6,793,061</div>
<div class="c" style="left:609px;top:285.5px;width:36px">3.98</div>
<div class="c" style="left:645px;top:285.5px;width:39px">821</div>
<div class="c" style="left:684px;top:285.5px;width:63px">1,308,218</div>
<div class="c" style="left:747px;top:285.5px;width:38px">86.21%</div>
<div class="c" style="left:785px;top:285.5px;width:64px">209,221</div>
<div class="c r" style="left:849px;top:285.5px;width:47px">13.79%</div>
<div class="c" style="left:896px;top:285.5px;width:63px">189,934</div>
<div class="c" style="left:959px;top:285.5px;width:38px">12.52%</div>
<div class="c" style="left:997px;top:285.5px;width:56px">165,312</div>
<div class="c r sm" style="left:1053px;top:285.5px;width:48px">2.43%</div>
<div class="c sm" style="left:1101px;top:285.5px;width:33px">36.75%</div>
<div class="c sm" style="left:1134px;top:285.5px;width:33px">14.53%</div>
<div class="rh" style="top:296px">163</div>
<div class="c dt" style="left:18px;top:296.5px;width:73px">8月23日</div>
<div class="c" style="left:91px;top:296.5px;width:38px">432</div>
<div class="c" style="left:129px;top:296.5px;width:34px">3284</div>
<div class="c" style="left:163px;top:296.5px;width:41px">117</div>
<div class="c" style="left:204px;top:296.5px;width:45px">41,333</div>
<div class="c" style="left:249px;top:296.5px;width:55px">353.27</div>
<div class="c" style="left:304px;top:296.5px;width:38px">27.08%</div>
<div class="c" style="left:342px;top:296.5px;width:36px">1359</div>
<div class="c" style="left:378px;top:296.5px;width:33px">41.38%</div>
<div class="c" style="left:411px;top:296.5px;width:54px">1,575,097</div>
<div class="c" style="left:465px;top:296.5px;width:37px">1,159.01</div>
<div class="c" style="left:502px;top:296.5px;width:41px">3,284</div>
<div class="c" style="left:543px;top:296.5px;width:66px">7,128,406</div>
<div class="c" style="left:609px;top:296.5px;width:36px">4.01</div>
<div class="c" style="left:645px;top:296.5px;width:39px">822</div>
<div class="c" style="left:684px;top:296.5px;width:63px">1,381,291</div>
<div class="c" style="left:747px;top:296.5px;width:38px">87.70%</div>
<div class="c" style="left:785px;top:296.5px;width:64px">193,806</div>
<div class="c r" style="left:849px;top:296.5px;width:47px">12.30%</div>
<div class="c" style="left:896px;top:296.5px;width:63px">202,825</div>
<div class="c" style="left:959px;top:296.5px;width:38px">12.88%</div>
<div class="c" style="left:997px;top:296.5px;width:56px">241,577</div>
<div class="c r sm" style="left:1053px;top:296.5px;width:48px">3.39%</div>
<div class="c sm" style="left:1101px;top:296.5px;width:33px">31.30%</div>
<div class="c sm" style="left:1134px;top:296.5px;width:33px">14.78%</div>
<div class="rh" style="top:307px">164</div>
<div class="c dt" style="left:18px;top:307.5px;width:73px">8月24日</div>
<div class="c" style="left:91px;top:307.5px;width:38px">446</div>
<div class="c" style="left:129px;top:307.5px;width:34px">3071</div>
<div class="c" style="left:163px;top:307.5px;width:41px">115</div>
<div class="c" style="left:204px;top:307.5px;width:45px">20,064</div>
<div class="c" style="left:249px;top:307.5px;width:55px">174.47</div>
<div class="c" style="left:304px;top:307.5px;width:38px">25.78%</div>
<div class="c" style="left:342px;top:307.5px;width:36px">1358</div>
<div class="c" style="left:378px;top:307.5px;width:33px">44.22%</div>
<div class="c" style="left:411px;top:307.5px;width:54px">1,625,287</div>
<div class="c" style="left:465px;top:307.5px;width:37px">1,196.82</div>
<div class="c" style="left:502px;top:307.5px;width:41px">3,071</div>
<div class="c" style="left:543px;top:307.5px;width:66px">6,710,399</div>
<div class="c" style="left:609px;top:307.5px;width:36px">3.56</div>
<div class="c" style="left:645px;top:307.5px;width:39px">859</div>
<div class="c" style="left:684px;top:307.5px;width:63px">1,412,904</div>
<div class="c" style="left:747px;top:307.5px;width:38px">86.93%</div>
<div class="c" style="left:785px;top:307.5px;width:64px">212,383</div>
<div class="c r" style="left:849px;top:307.5px;width:47px">13.07%</div>
<div class="c" style="left:896px;top:307.5px;width:63px">259,592</div>
<div class="c" style="left:959px;top:307.5px;width:38px">15.97%</div>
<div class="c" style="left:997px;top:307.5px;width:56px">170,347</div>
<div class="c r sm" style="left:1053px;top:307.5px;width:48px">2.54%</div>
<div class="c sm" style="left:1101px;top:307.5px;width:33px">34.92%</div>
<div class="c sm" style="left:1134px;top:307.5px;width:33px">9.52%</div>
<div class="rh" style="top:318px">165</div>
<div class="c dt" style="left:18px;top:318.5px;width:73px">8月25日</div>
<div class="c" style="left:91px;top:318.5px;width:38px">506</div>
<div class="c" style="left:129px;top:318.5px;width:34px">2968</div>
<div class="c" style="left:163px;top:318.5px;width:41px">126</div>
<div class="c" style="left:204px;top:318.5px;width:45px">41,917</div>
<div class="c" style="left:249px;top:318.5px;width:55px">332.67</div>
<div class="c" style="left:304px;top:318.5px;width:38px">24.90%</div>
<div class="c" style="left:342px;top:318.5px;width:36px">1431</div>
<div class="c" style="left:378px;top:318.5px;width:33px">48.21%</div>
<div class="c" style="left:411px;top:318.5px;width:54px">1,867,245</div>
<div class="c" style="left:465px;top:318.5px;width:37px">1,304.85</div>
<div class="c" style="left:502px;top:318.5px;width:41px">2,968</div>
<div class="c" style="left:543px;top:318.5px;width:66px">7,342,606</div>
<div class="c" style="left:609px;top:318.5px;width:36px">3.53</div>
<div class="c" style="left:645px;top:318.5px;width:39px">897</div>
<div class="c" style="left:684px;top:318.5px;width:63px">1,608,411</div>
<div class="c" style="left:747px;top:318.5px;width:38px">86.14%</div>
<div class="c" style="left:785px;top:318.5px;width:64px">258,834</div>
<div class="c r" style="left:849px;top:318.5px;width:47px">13.86%</div>
<div class="c" style="left:896px;top:318.5px;width:63px">212,908</div>
<div class="c" style="left:959px;top:318.5px;width:38px">11.40%</div>
<div class="c" style="left:997px;top:318.5px;width:56px">198,823</div>
<div class="c r sm" style="left:1053px;top:318.5px;width:48px">2.71%</div>
<div class="c sm" style="left:1101px;top:318.5px;width:33px">34.09%</div>
<div class="c sm" style="left:1134px;top:318.5px;width:33px">14.39%</div>
<div class="rh" style="top:329px">166</div>
<div class="c dt" style="left:18px;top:329.5px;width:73px">8月26日</div>
<div class="c" style="left:91px;top:329.5px;width:38px">497</div>
<div class="c" style="left:129px;top:329.5px;width:34px">3185</div>
<div class="c" style="left:163px;top:329.5px;width:41px">132</div>
<div class="c" style="left:204px;top:329.5px;width:45px">38,804</div>
<div class="c" style="left:249px;top:329.5px;width:55px">293.97</div>
<div class="c" style="left:304px;top:329.5px;width:38px">26.56%</div>
<div class="c" style="left:342px;top:329.5px;width:36px">1453</div>
<div class="c" style="left:378px;top:329.5px;width:33px">45.62%</div>
<div class="c" style="left:411px;top:329.5px;width:54px">2,041,229</div>
<div class="c" style="left:465px;top:329.5px;width:37px">1,404.84</div>
<div class="c" style="left:502px;top:329.5px;width:41px">3,185</div>
<div class="c" style="left:543px;top:329.5px;width:66px">8,985,401</div>
<div class="c" style="left:609px;top:329.5px;width:36px">3.95</div>
<div class="c" style="left:645px;top:329.5px;width:39px">910</div>
<div class="c" style="left:684px;top:329.5px;width:63px">1,775,161</div>
<div class="c" style="left:747px;top:329.5px;width:38px">86.97%</div>
<div class="c" style="left:785px;top:329.5px;width:64px">266,068</div>
<div class="c r" style="left:849px;top:329.5px;width:47px">13.03%</div>
<div class="c" style="left:896px;top:329.5px;width:63px">236,030</div>
<div class="c" style="left:959px;top:329.5px;width:38px">11.56%</div>
<div class="c" style="left:997px;top:329.5px;width:56px">253,521</div>
<div class="c r sm" style="left:1053px;top:329.5px;width:48px">2.82%</div>
<div class="c sm" style="left:1101px;top:329.5px;width:33px">26.09%</div>
<div class="rh" style="top:340px">167</div>
<div class="c dt" style="left:18px;top:340.5px;width:73px">8月27日</div>
<div class="c" style="left:91px;top:340.5px;width:38px">528</div>
<div class="c" style="left:129px;top:340.5px;width:34px">3392</div>
<div class="c" style="left:163px;top:340.5px;width:41px">138</div>
<div class="c" style="left:204px;top:340.5px;width:45px">47,228</div>
<div class="c" style="left:249px;top:340.5px;width:55px">342.23</div>
<div class="c" style="left:304px;top:340.5px;width:38px">26.14%</div>
<div class="c" style="left:342px;top:340.5px;width:36px">1269</div>
<div class="c" style="left:378px;top:340.5px;width:33px">37.41%</div>
<div class="c" style="left:411px;top:340.5px;width:54px">1,850,778</div>
<div class="c" style="left:465px;top:340.5px;width:37px">1,458.45</div>
<div class="c" style="left:502px;top:340.5px;width:41px">3,392</div>
<div class="c" style="left:543px;top:340.5px;width:66px">8,914,424</div>
<div class="c" style="left:609px;top:340.5px;width:36px">4.32</div>
<div class="c" style="left:645px;top:340.5px;width:39px">716</div>
<div class="c" style="left:684px;top:340.5px;width:63px">1,648,206</div>
<div class="c" style="left:747px;top:340.5px;width:38px">89.05%</div>
<div class="c" style="left:785px;top:340.5px;width:64px">202,572</div>
<div class="c r" style="left:849px;top:340.5px;width:47px">10.95%</div>
<div class="c" style="left:896px;top:340.5px;width:63px">210,454</div>
<div class="c" style="left:959px;top:340.5px;width:38px">11.37%</div>
<div class="c" style="left:997px;top:340.5px;width:56px">321,454</div>
<div class="c r sm" style="left:1053px;top:340.5px;width:48px">3.61%</div>
<div class="c sm" style="left:1101px;top:340.5px;width:33px">35.04%</div>
<div class="rh" style="top:351px">168</div>
<div class="c dt" style="left:18px;top:351.5px;width:73px">8月28日</div>
<div class="c" style="left:91px;top:351.5px;width:38px">482</div>
<div class="c" style="left:129px;top:351.5px;width:34px">2,917</div>
<div class="c" style="left:163px;top:351.5px;width:41px">137</div>
<div class="c" style="left:204px;top:351.5px;width:45px">54,804</div>
<div class="c" style="left:249px;top:351.5px;width:55px">400.03</div>
<div class="c" style="left:304px;top:351.5px;width:38px">28.42%</div>
<div class="c" style="left:342px;top:351.5px;width:36px">1193</div>
<div class="c" style="left:378px;top:351.5px;width:33px">40.90%</div>
<div class="c" style="left:411px;top:351.5px;width:54px">1,750,614</div>
<div class="c" style="left:465px;top:351.5px;width:37px">1,467.40</div>
<div class="c" style="left:502px;top:351.5px;width:41px">2,917</div>
<div class="c" style="left:543px;top:351.5px;width:66px">8,932,640</div>
<div class="c" style="left:609px;top:351.5px;width:36px">4.57</div>
<div class="c" style="left:645px;top:351.5px;width:39px">651</div>
<div class="c" style="left:684px;top:351.5px;width:63px">1,392,138</div>
<div class="c" style="left:747px;top:351.5px;width:38px">79.52%</div>
<div class="c" style="left:785px;top:351.5px;width:64px">358,476</div>
<div class="c r" style="left:849px;top:351.5px;width:47px">20.48%</div>
<div class="c" style="left:896px;top:351.5px;width:63px">205,732</div>
<div class="c" style="left:959px;top:351.5px;width:38px">11.75%</div>
<div class="c" style="left:997px;top:351.5px;width:56px">428,266</div>
<div class="c r sm" style="left:1053px;top:351.5px;width:48px">4.79%</div>
<div class="c sm" style="left:1101px;top:351.5px;width:33px">29.17%</div>
<div class="rh" style="top:362px">169</div>
<div class="c dt" style="left:18px;top:362.5px;width:73px">8月29日</div>
<div class="c" style="left:91px;top:362.5px;width:38px">498</div>
<div class="c" style="left:129px;top:362.5px;width:34px">3242</div>
<div class="c" style="left:163px;top:362.5px;width:41px">120</div>
<div class="c" style="left:204px;top:362.5px;width:45px">20,521</div>
<div class="c" style="left:249px;top:362.5px;width:55px">171.01</div>
<div class="c" style="left:304px;top:362.5px;width:38px">24.10%</div>
<div class="c" style="left:342px;top:362.5px;width:36px">1153</div>
<div class="c" style="left:378px;top:362.5px;width:33px">35.56%</div>
<div class="c" style="left:411px;top:362.5px;width:54px">1,357,117</div>
<div class="c" style="left:465px;top:362.5px;width:37px">1,177.03</div>
<div class="c" style="left:502px;top:362.5px;width:41px">3,242</div>
<div class="c" style="left:543px;top:362.5px;width:66px">8,062,573</div>
<div class="c" style="left:609px;top:362.5px;width:36px">5.22</div>
<div class="c" style="left:645px;top:362.5px;width:39px">657</div>
<div class="c" style="left:684px;top:362.5px;width:63px">1,090,277</div>
<div class="c" style="left:747px;top:362.5px;width:38px">80.34%</div>
<div class="c" style="left:785px;top:362.5px;width:64px">266,840</div>
<div class="c r" style="left:849px;top:362.5px;width:47px">19.66%</div>
<div class="c" style="left:896px;top:362.5px;width:63px">187,326</div>
<div class="c" style="left:959px;top:362.5px;width:38px">13.80%</div>
<div class="c" style="left:997px;top:362.5px;width:56px">310,897</div>
<div class="c r sm" style="left:1053px;top:362.5px;width:48px">3.86%</div>
<div class="c sm" style="left:1101px;top:362.5px;width:33px">30.77%</div>
<div class="rh" style="top:373px">170</div>
<div class="c dt" style="left:18px;top:373.5px;width:73px">8月30日</div>
<div class="c" style="left:91px;top:373.5px;width:38px">445</div>
<div class="c" style="left:129px;top:373.5px;width:34px">3361</div>
<div class="c" style="left:163px;top:373.5px;width:41px">104</div>
<div class="c" style="left:204px;top:373.5px;width:45px">25,167</div>
<div class="c" style="left:249px;top:373.5px;width:55px">241.99</div>
<div class="c" style="left:304px;top:373.5px;width:38px">23.37%</div>
<div class="c" style="left:342px;top:373.5px;width:36px">1148</div>
<div class="c" style="left:378px;top:373.5px;width:33px">34.16%</div>
<div class="c" style="left:411px;top:373.5px;width:54px">1,422,911</div>
<div class="c" style="left:465px;top:373.5px;width:37px">1,239.47</div>
<div class="c" style="left:502px;top:373.5px;width:41px">3,361</div>
<div class="c" style="left:543px;top:373.5px;width:66px">7,588,515</div>
<div class="c" style="left:609px;top:373.5px;width:36px">4.77</div>
<div class="c" style="left:645px;top:373.5px;width:39px">609</div>
<div class="c" style="left:684px;top:373.5px;width:63px">1,160,979</div>
<div class="c" style="left:747px;top:373.5px;width:38px">81.59%</div>
<div class="c" style="left:785px;top:373.5px;width:64px">261,932</div>
<div class="c r" style="left:849px;top:373.5px;width:47px">18.41%</div>
<div class="c" style="left:896px;top:373.5px;width:63px">168,424</div>
<div class="c" style="left:959px;top:373.5px;width:38px">11.84%</div>
<div class="c" style="left:997px;top:373.5px;width:56px">240,649</div>
<div class="c r sm" style="left:1053px;top:373.5px;width:48px">3.17%</div>
<div class="c sm" style="left:1101px;top:373.5px;width:33px">29.10%</div>
<div class="rh" style="top:384px">171</div>
<div class="c dt" style="left:18px;top:384.5px;width:73px">8月31日</div>
<div class="c" style="left:91px;top:384.5px;width:38px">534</div>
<div class="c" style="left:129px;top:384.5px;width:34px">3099</div>
<div class="c" style="left:163px;top:384.5px;width:41px">134</div>
<div class="c" style="left:204px;top:384.5px;width:45px">33,318</div>
<div class="c" style="left:249px;top:384.5px;width:55px">248.64</div>
<div class="c" style="left:304px;top:384.5px;width:38px">25.09%</div>
<div class="c" style="left:342px;top:384.5px;width:36px">1166</div>
<div class="c" style="left:378px;top:384.5px;width:33px">37.63%</div>
<div class="c" style="left:411px;top:384.5px;width:54px">1,504,304</div>
<div class="c" style="left:465px;top:384.5px;width:37px">1,290.14</div>
<div class="c" style="left:502px;top:384.5px;width:41px">3,099</div>
<div class="c" style="left:543px;top:384.5px;width:66px">7,449,368</div>
<div class="c" style="left:609px;top:384.5px;width:36px">4.36</div>
<div class="c" style="left:645px;top:384.5px;width:39px">625</div>
<div class="c" style="left:684px;top:384.5px;width:63px">1,244,029</div>
<div class="c" style="left:747px;top:384.5px;width:38px">82.70%</div>
<div class="c" style="left:785px;top:384.5px;width:64px">260,275</div>
<div class="c r" style="left:849px;top:384.5px;width:47px">17.30%</div>
<div class="c" style="left:896px;top:384.5px;width:63px">203,038</div>
<div class="c" style="left:959px;top:384.5px;width:38px">13.50%</div>
<div class="c" style="left:997px;top:384.5px;width:56px">221,552</div>
<div class="c r sm" style="left:1053px;top:384.5px;width:48px">2.97%</div>
<div class="c sm" style="left:1101px;top:384.5px;width:33px">30.34%</div>
<div class="rh" style="top:395px">172</div>
<div class="a" style="left:18px;top:394px;width:1182px;height:11px;background:#8fd14f"></div>
<div class="c t" style="left:18px;top:395.5px;width:73px">8月Total</div>
<div class="c t" style="left:91px;top:395.5px;width:38px">17986</div>
<div class="c t" style="left:163px;top:395.5px;width:41px">4656</div>
<div class="c t" style="left:204px;top:395.5px;width:45px">1,079,424</div>
<div class="c t" style="left:249px;top:395.5px;width:55px">231.84</div>
<div class="c t" style="left:304px;top:395.5px;width:38px">25.89%</div>
<div class="c t" style="left:378px;top:395.5px;width:33px">#DIV/0!</div>
<div class="c t" style="left:411px;top:395.5px;width:54px">48,509,697</div>
<div class="c t" style="left:465px;top:395.5px;width:37px">#DIV/0!</div>
<div class="c t" style="left:543px;top:395.5px;width:66px">224,484,313</div>
<div class="c t" style="left:609px;top:395.5px;width:36px">4.11</div>
<div class="c t" style="left:684px;top:395.5px;width:63px">41,229,257</div>
<div class="c t" style="left:747px;top:395.5px;width:38px">84.99%</div>
<div class="c t" style="left:785px;top:395.5px;width:64px">7,280,440</div>
<div class="c t" style="left:849px;top:395.5px;width:47px">15.01%</div>
<div class="c t" style="left:896px;top:395.5px;width:63px">6,080,278</div>
<div class="c t" style="left:959px;top:395.5px;width:38px">12.53%</div>
<div class="c t" style="left:997px;top:395.5px;width:56px">7,300,963</div>
<div class="c t" style="left:1053px;top:395.5px;width:48px">3.25%</div>
<div class="rh" style="top:406px">173</div>
<div class="c dt" style="left:18px;top:406.5px;width:73px">8月1日</div>
<div class="c" style="left:91px;top:406.5px;width:38px">464</div>
<div class="c" style="left:129px;top:406.5px;width:34px">3,489</div>
<div class="c" style="left:163px;top:406.5px;width:41px">115</div>
<div class="c" style="left:204px;top:406.5px;width:45px">28,454</div>
<div class="c" style="left:249px;top:406.5px;width:55px">261.24</div>
<div class="c" style="left:304px;top:406.5px;width:38px">28.05%</div>
<div class="c" style="left:342px;top:406.5px;width:36px">1354</div>
<div class="c" style="left:378px;top:406.5px;width:33px">38.30%</div>
<div class="c" style="left:411px;top:406.5px;width:54px">1,787,788</div>
<div class="c" style="left:465px;top:406.5px;width:37px">1,331.38</div>
<div class="c" style="left:502px;top:406.5px;width:41px">3,489</div>
<div class="c" style="left:543px;top:406.5px;width:66px">8,583,888</div>
<div class="c" style="left:609px;top:406.5px;width:36px">4.50</div>
<div class="c" style="left:645px;top:406.5px;width:39px">717</div>
<div class="c" style="left:684px;top:406.5px;width:63px">1,551,788</div>
<div class="c" style="left:747px;top:406.5px;width:38px">88.00%</div>
<div class="c" style="left:785px;top:406.5px;width:64px">172,845</div>
<div class="c r" style="left:849px;top:406.5px;width:47px">10.34%</div>
<div class="c" style="left:896px;top:406.5px;width:63px">172,844</div>
<div class="c" style="left:959px;top:406.5px;width:38px">10.44%</div>
<div class="c" style="left:997px;top:406.5px;width:56px">276,272</div>
<div class="c r sm" style="left:1053px;top:406.5px;width:48px">3.15%</div>
<div class="c sm" style="left:1101px;top:406.5px;width:33px">30.00%</div>
<div class="c sm" style="left:1134px;top:406.5px;width:33px">18.44%</div>
<div class="c sm" style="left:1167px;top:406.5px;width:33px">11.23%</div>
<div class="hl" style="left:18px;top:42px;width:1182px"></div>
<div class="hl" style="left:18px;top:64px;width:1182px"></div>
<div class="hl" style="left:18px;top:75px;width:1182px"></div>
<div class="hl" style="left:18px;top:86px;width:1182px"></div>
<div class="hl" style="left:18px;top:97px;width:1182px"></div>
<div class="hl" style="left:18px;top:108px;width:1182px"></div>
<div class="hl" style="left:18px;top:119px;width:1182px"></div>
<div class="hl" style="left:18px;top:130px;width:1182px"></div>
<div class="hl" style="left:18px;top:141px;width:1182px"></div>
<div class="hl" style="left:18px;top:152px;width:1182px"></div>
<div class="hl" style="left:18px;top:163px;width:1182px"></div>
<div class="hl" style="left:18px;top:174px;width:1182px"></div>
<div class="hl" style="left:18px;top:185px;width:1182px"></div>
<div class="hl" style="left:18px;top:196px;width:1182px"></div>
<div class="hl" style="left:18px;top:207px;width:1182px"></div>
<div class="hl" style="left:18px;top:218px;width:1182px"></div>
<div class="hl" style="left:18px;top:229px;width:1182px"></div>
<div class="hl" style="left:18px;top:240px;width:1182px"></div>
<div class="hl" style="left:18px;top:251px;width:1182px"></div>
<div class="hl" style="left:18px;top:262px;width:1182px"></div>
<div class="hl" style="left:18px;top:273px;width:1182px"></div>
<div class="hl" style="left:18px;top:284px;width:1182px"></div>
<div class="hl" style="left:18px;top:295px;width:1182px"></div>
<div class="hl" style="left:18px;top:306px;width:1182px"></div>
<div class="hl" style="left:18px;top:317px;width:1182px"></div>
<div class="hl" style="left:18px;top:328px;width:1182px"></div>
<div class="hl" style="left:18px;top:339px;width:1182px"></div>
<div class="hl" style="left:18px;top:350px;width:1182px"></div>
<div class="hl" style="left:18px;top:361px;width:1182px"></div>
<div class="hl" style="left:18px;top:372px;width:1182px"></div>
<div class="hl" style="left:18px;top:383px;width:1182px"></div>
<div class="hl" style="left:18px;top:394px;width:1182px"></div>
<div class="hl" style="left:18px;top:405px;width:1182px"></div>
<div class="hl" style="left:18px;top:416px;width:1182px"></div>
<div class="vl" style="left:91px;top:42px;height:368px"></div>
<div class="vl" style="left:129px;top:42px;height:368px"></div>
<div class="vl" style="left:163px;top:42px;height:368px"></div>
<div class="vl" style="left:204px;top:42px;height:368px"></div>
<div class="vl" style="left:249px;top:42px;height:368px"></div>
<div class="vl" style="left:304px;top:42px;height:368px"></div>
<div class="vl" style="left:342px;top:42px;height:368px"></div>
<div class="vl" style="left:378px;top:42px;height:368px"></div>
<div class="vl" style="left:411px;top:42px;height:368px"></div>
<div class="vl" style="left:465px;top:42px;height:368px"></div>
<div class="vl" style="left:502px;top:42px;height:368px"></div>
<div class="vl" style="left:543px;top:42px;height:368px"></div>
<div class="vl" style="left:609px;top:42px;height:368px"></div>
<div class="vl" style="left:645px;top:42px;height:368px"></div>
<div class="vl" style="left:684px;top:42px;height:368px"></div>
<div class="vl" style="left:747px;top:42px;height:368px"></div>
<div class="vl" style="left:785px;top:42px;height:368px"></div>
<div class="vl" style="left:849px;top:42px;height:368px"></div>
<div class="vl" style="left:896px;top:42px;height:368px"></div>
<div class="vl" style="left:959px;top:42px;height:368px"></div>
<div class="vl" style="left:997px;top:42px;height:368px"></div>
<div class="vl" style="left:1053px;top:42px;height:368px"></div>
<div class="vl" style="left:1101px;top:42px;height:368px"></div>
<div class="vl" style="left:1134px;top:42px;height:368px"></div>
<div class="vl" style="left:1167px;top:42px;height:368px"></div>
<div class="vl" style="left:1200px;top:42px;height:368px"></div>
<div class="a" style="left:17px;top:15px;width:1px;height:395px;background:#dadada"></div>
<div class="a" style="left:1198px;top:15px;width:2px;height:49px;background:#2a2a2a"></div>
<div class="a" style="left:14px;top:60px;width:0;height:0;border-left:3px solid transparent;border-bottom:3px solid #777"></div>
</div></body></html>
